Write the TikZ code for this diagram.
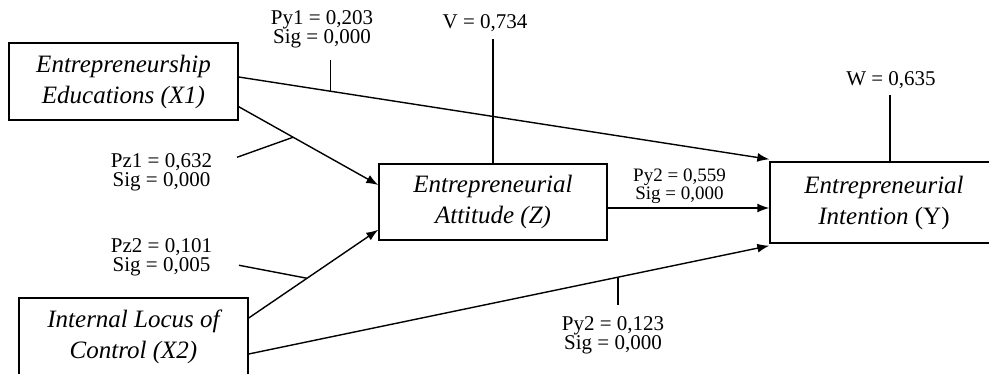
\documentclass[tikz,border=0pt]{standalone}
\usepackage{fontspec}
\setmainfont{Liberation Serif}
\usetikzlibrary{arrows.meta}
\begin{document}
\begin{tikzpicture}[x=0.5pt,y=-0.5pt,line width=0.7pt,
  box/.style={draw,align=center,inner sep=0pt,minimum width=114.5pt,
    font=\fontsize{12.5}{15.5}\selectfont\itshape},
  lbl/.style={align=center,inner sep=0pt,font=\fontsize{10.5}{9.5}\selectfont},
  >={Latex[length=6pt,width=4.5pt]}]
  \useasboundingbox (0,0) rectangle (989,374);
  % variables
  \node[box,minimum height=38.5pt] (X1) at (123.5,81.5) {Entrepreneurship\\Educations (X1)};
  \node[box,minimum height=38.5pt] (X2) at (133.5,336.5) {Internal Locus of\\Control (X2)};
  \node[box,minimum width=114pt,minimum height=38pt] (Z) at (493,202) {Entrepreneurial\\Attitude (Z)};
  \node[box,minimum width=114pt,minimum height=40.5pt] (Y) at (884,202.5) {Entrepreneurial\\Intention \textup{(Y)}};
  % paths
  \draw[->] ([yshift=2.25pt]X1.east) -- ([yshift=1pt]Y.north west) coordinate[pos=0.173] (t1);
  \draw[->] ([yshift=7pt]X1.south east) -- ([yshift=8.5pt]Z.west) coordinate[pos=0.39] (t2);
  \draw[->] ([yshift=9.25pt]X2.east) -- ([yshift=5.5pt]Z.south west) coordinate[pos=0.45] (t3);
  \draw[->] ([yshift=-8.75pt]X2.east) -- ([yshift=-1pt]Y.south west) coordinate[pos=0.709] (t4);
  \draw[->] ([yshift=-3pt]Z.east) -- ([yshift=-3pt]Z.east -| Y.west);
  % coefficients
  \draw (t1) -- ++(0,-31);
  \draw (t2) -- ++(-56,20);
  \draw (t3) -- ++(-68,-13);
  \draw (t4) -- ++(0,28);
  \draw (Z.north) -- ++(0,-124);
  \draw ([xshift=3pt]Y.north) -- ++(0,-66);
  \node[lbl] (py1) at (322,29) {Py1 = 0,203\\Sig = 0,000};
  \node[lbl] (pz1) at (161.5,172) {Pz1 = 0,632\\Sig = 0,000};
  \node[lbl] (pz2) at (161.5,257.5) {Pz2 = 0,101\\Sig = 0,005};
  \node[lbl] (py3) at (613,335.5) {Py2 = 0,123\\Sig = 0,000};
  \node[lbl,font=\fontsize{9.5}{9}\selectfont] (py2) at (679.5,186) {Py2 = 0,559\\Sig = 0,000};
  \node[lbl] (v) at (485,23) {V = 0,734};
  \node[lbl] (w) at (891,80) {W = 0,635};
\end{tikzpicture}
\end{document}
